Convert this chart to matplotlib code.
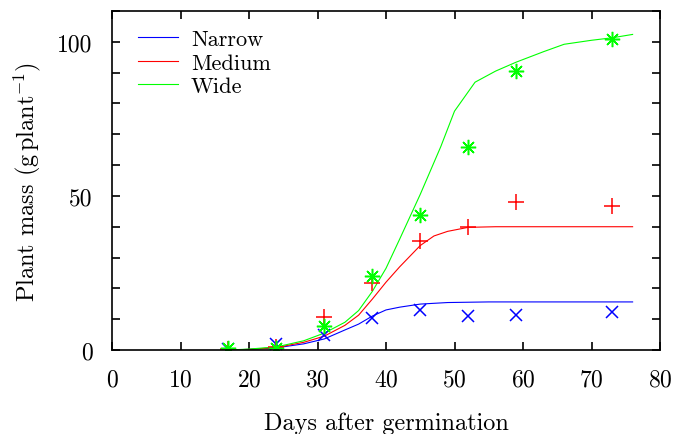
import matplotlib
matplotlib.use('Agg')
import matplotlib.pyplot as plt

plt.rcParams['font.family'] = 'cmr10'
plt.rcParams['mathtext.fontset'] = 'cm'
plt.rcParams['axes.unicode_minus'] = False
plt.rcParams['axes.formatter.use_mathtext'] = True

# Measured data (days after germination)
obs_days = [17, 24, 31, 38, 45, 52, 59, 73]
narrow_obs = [0.3, 1.8, 4.9, 10.4, 13.0, 11.0, 11.4, 12.3]
medium_obs = [0.3, 1.0, 10.7, 21.8, 35.4, 40.0, 48.0, 46.8]
wide_obs = [0.5, 0.5, 7.8, 24.0, 43.8, 66.0, 90.6, 101.0]

# Model curves
narrow_days = [17, 20, 24, 28, 31, 34, 36, 38, 40, 42, 45, 49, 55, 76]
narrow_fit = [0, 0.2, 0.7, 2.0, 3.6, 6.5, 8.4, 11.0, 13.0, 13.9, 14.9, 15.4, 15.6, 15.6]

medium_days = [17, 20, 24, 28, 31, 34, 36, 38, 40, 42, 45, 47, 49, 52, 56, 76]
medium_fit = [0, 0.2, 0.8, 2.5, 4.5, 8.0, 11.3, 16.5, 22.0, 27.0, 33.9, 37.0, 38.5, 39.8, 40.0, 40.0]

wide_days = [17, 20, 24, 28, 31, 34, 36, 38, 40, 42, 45, 48, 50, 53, 56, 59, 63, 66, 70, 73, 76]
wide_fit = [0, 0.3, 1.0, 3.0, 5.5, 9.0, 12.8, 19.0, 26.5, 36.0, 50.5, 66.0, 77.5, 86.9, 90.5,
            93.4, 96.8, 99.2, 100.5, 101.3, 102.4]

fig = plt.figure(figsize=(6.8, 4.35), dpi=100)
ax = fig.add_axes([112/680, 1 - 351/435, 548/680, 339/435])

ax.plot(narrow_days, narrow_fit, color='#0000ff', lw=0.8, label='Narrow')
ax.plot(medium_days, medium_fit, color='#ff0000', lw=0.8, label='Medium')
ax.plot(wide_days, wide_fit, color='#00ff00', lw=0.8, label='Wide')

ax.plot(obs_days, narrow_obs, ls='none', marker='x', ms=9, mew=1.1, color='#0000ff')
ax.plot(obs_days, medium_obs, ls='none', marker='+', ms=11, mew=1.1, color='#ff0000')
ax.plot(obs_days, wide_obs, ls='none', marker=(8, 2, 0), ms=11, mew=1.1, color='#00ff00')

ax.set_xlim(0, 80)
ax.set_ylim(0, 110)
ax.set_xticks(range(0, 81, 10))
yt = list(range(0, 111, 10))
ax.set_yticks(yt, labels=[str(v) if v % 50 == 0 else '' for v in yt])

ax.tick_params(direction='in', length=6, width=1.2, top=True, right=True,
               labelsize=17)
ax.tick_params(axis='x', pad=13)
ax.tick_params(axis='y', pad=14)
for s in ax.spines.values():
    s.set_linewidth(1.2)

ax.set_xlabel('Days after germination', fontsize=17.5, labelpad=15)
ax.set_ylabel(r'Plant mass (g$\,$plant$^{-1}$)', fontsize=17.5, labelpad=10)

ax.legend(loc='upper left', bbox_to_anchor=(0.047, 0.945), frameon=False,
          fontsize=16, handlelength=1.8, handletextpad=0.6, labelspacing=0.17,
          borderpad=0, borderaxespad=0)

fig.savefig('out.png', dpi=100)
